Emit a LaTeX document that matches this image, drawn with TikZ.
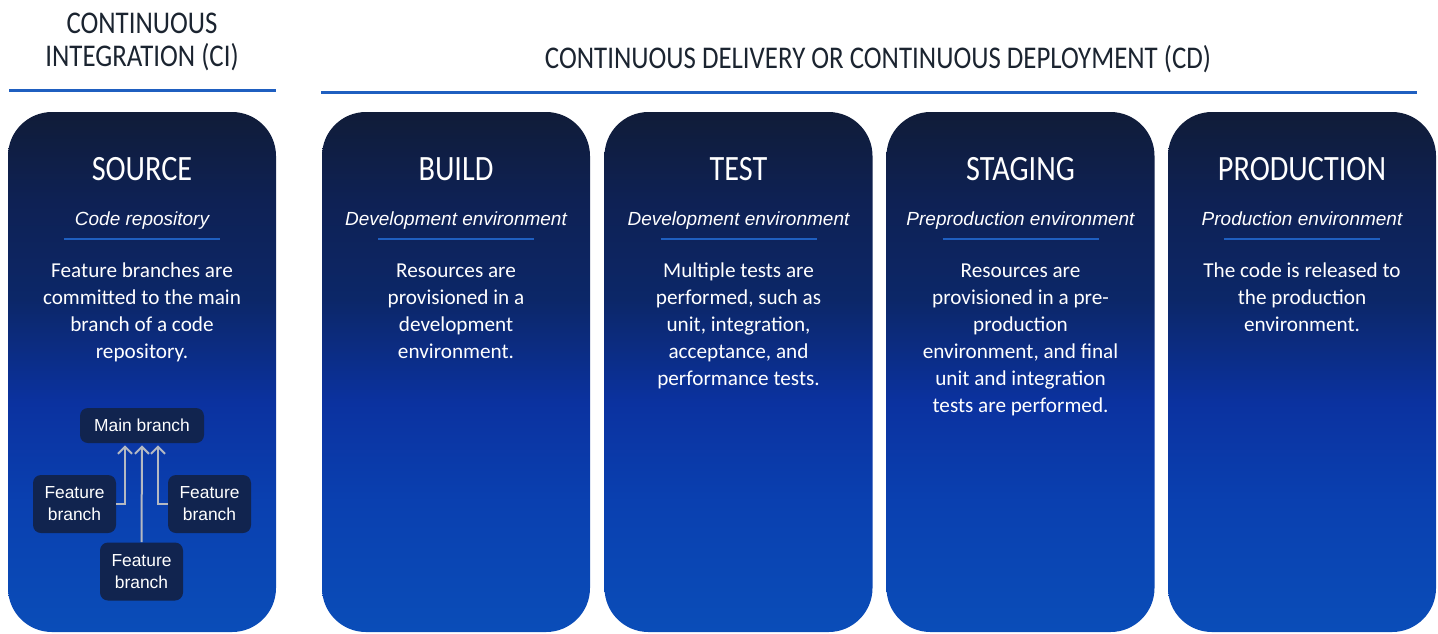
\documentclass[tikz,border=0pt]{standalone}
\usepackage{fontspec}
\setmainfont{Carlito}
\newfontfamily\headfont[FakeStretch=0.85]{Carlito}
\newfontfamily\arialfont{Liberation Sans}
\usetikzlibrary{arrows.meta}

\definecolor{boxtop}{HTML}{101C38}
\definecolor{boxupper}{HTML}{0E2154}
\definecolor{boxcentre}{HTML}{0C2768}
\definecolor{boxmid}{HTML}{0B32A0}
\definecolor{boxlow}{HTML}{0A40B0}
\definecolor{boxbot}{HTML}{0A4DB8}
\definecolor{rulecol}{HTML}{1F5FC0}
\definecolor{headtxt}{HTML}{1B2430}
\definecolor{branchfill}{HTML}{11244F}
\definecolor{arrowgray}{HTML}{B4B9C2}
\pgfdeclareverticalshading{colshade}{100bp}{color(0bp)=(boxbot); color(25bp)=(boxbot);
  color(37.5bp)=(boxlow); color(47bp)=(boxmid); color(57bp)=(boxcentre); color(66.5bp)=(boxupper);
  color(75bp)=(boxtop); color(100bp)=(boxtop)}

\begin{document}
\begin{tikzpicture}[x=0.5pt,y=-0.5pt,
    colbox/.style={rounded corners=22pt,shading=colshade,minimum width=134pt,minimum height=260pt,inner sep=0pt},
    header/.style={headtxt,font=\headfont\fontsize{15.8}{16.5}\selectfont,align=center,anchor=base},
    title/.style={white,font=\headfont\fontsize{17.8}{20}\selectfont,anchor=base},
    env/.style={white,font=\arialfont\itshape\fontsize{9.5}{11}\selectfont,anchor=base},
    body/.style={white,font=\fontsize{10.6}{13.5}\selectfont,align=center,anchor=base,inner sep=0pt},
    toprule/.style={rulecol,line width=1.5pt},
    subrule/.style={rulecol,line width=0.7pt},
    branch/.style={fill=branchfill,rounded corners=4pt,text=white,font=\arialfont\fontsize{8.7}{11}\selectfont,align=center,inner sep=0pt},
    merge/.style={arrowgray,line width=1pt,-{Straight Barb[length=3.5pt,width=7pt]}}]
\useasboundingbox (0,0) rectangle (1438,633);

% headers (base = last line)
\node[header] (cihead) at (142,66) {CONTINUOUS\\INTEGRATION (CI)};
\node[header] (cdhead) at (878,68) {CONTINUOUS DELIVERY OR CONTINUOUS DEPLOYMENT (CD)};
\draw[toprule] (9,90) -- (276,90);
\draw[toprule] (321,92) -- (1417,92);

% columns
\node[colbox] (src) at (142,372) {};
\node[colbox] (bld) at (456,372) {};
\node[colbox] (tst) at (738.5,372) {};
\node[colbox] (stg) at (1020.5,372) {};
\node[colbox] (prd) at (1302,372) {};

\node[title] (srctitle) at (142,180) {SOURCE};
\node[title] (bldtitle) at (456,180) {BUILD};
\node[title] (tsttitle) at (738.5,180) {TEST};
\node[title] (stgtitle) at (1020.5,180) {STAGING};
\node[title] (prdtitle) at (1302,180) {PRODUCTION};

\node[env] (srcenv) at (142,225) {Code repository};
\node[env] (bldenv) at (456,225) {Development environment};
\node[env] (tstenv) at (738.5,225) {Development environment};
\node[env] (stgenv) at (1020.5,225) {Preproduction environment};
\node[env] (prdenv) at (1302,225) {Production environment};

\draw[subrule] (64,239) -- (220,239);
\draw[subrule] (378,239) -- (534,239);
\draw[subrule] (660.5,239) -- (816.5,239);
\draw[subrule] (942.5,239) -- (1098.5,239);
\draw[subrule] (1224,239) -- (1380,239);

% body texts, placed at the baseline of their last line
\node[body] (srctext) at (142,358) {Feature branches are\\committed to the main\\branch of a code\\repository.};
\node[body] (bldtext) at (456,358) {Resources are\\provisioned in a\\development\\environment.};
\node[body] (tsttext) at (738.5,385) {Multiple tests are\\performed, such as\\unit, integration,\\acceptance, and\\performance tests.};
\node[body] (stgtext) at (1020.5,412) {Resources are\\provisioned in a pre-\\production\\environment, and final\\unit and integration\\tests are performed.};
\node[body] (prdtext) at (1302,331) {The code is released to\\the production\\environment.};

% branches
\node[branch,minimum width=62pt,minimum height=17.5pt] (main) at (142,425.5) {Main branch};
\node[branch,minimum width=41.5pt,minimum height=29pt] (featl) at (74.5,504) {Feature\\branch};
\node[branch,minimum width=41.5pt,minimum height=29pt] (featr) at (209.5,504) {Feature\\branch};
\node[branch,minimum width=41.5pt,minimum height=29pt] (featb) at (141.5,571.5) {Feature\\branch};
\draw[merge] (featl.east) -| ([xshift=-8.5pt,yshift=-1pt]main.south);
\draw[merge] (featr.west) -| ([xshift=8pt,yshift=-1pt]main.south);
\draw[merge] (featb.north) -- ([yshift=-1pt]main.south);
\end{tikzpicture}
\end{document}
